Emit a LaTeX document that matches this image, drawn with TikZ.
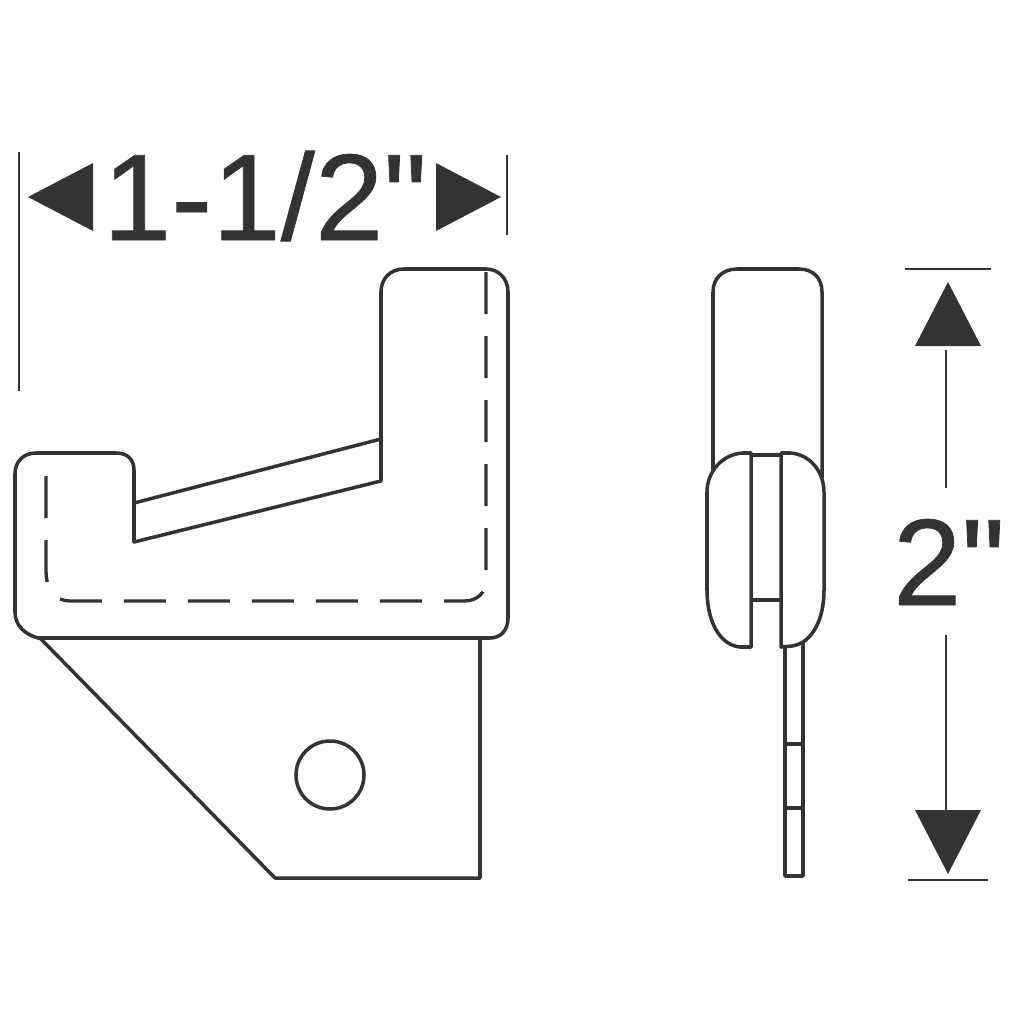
\documentclass[tikz,border=0pt]{standalone}
\usepackage{fontspec}
\setmainfont{Liberation Sans}
\newfontfamily\labelfont[FakeBold=0.6]{Liberation Sans}
\definecolor{inkgray}{HTML}{333333}
\tikzset{
  outline/.style={draw=inkgray,line width=1pt,line join=round},
  hidden/.style={draw=inkgray,line width=0.95pt,dash pattern=on 4.2mm off 2.2mm},
  dimline/.style={draw=inkgray,line width=0.7pt},
  dimhead/.style={fill=inkgray},
  dimtext/.style={text=inkgray,font=\labelfont\fontsize{35}{35}\selectfont,inner sep=0pt}
}
\begin{document}
\begin{tikzpicture}[x=0.01cm,y=-0.01cm]
\useasboundingbox (0,0) rectangle (1024,1024);
% Lower plate
\draw[outline] (40,638) -- (275,878) -- (480,878) -- (480,638);
\draw[outline] (330,775) circle [radius=34];
% Hook body
\draw[outline] (38,638) -- (490,638) .. controls (501,638) and (508,630) .. (508,618)
  -- (508,292) .. controls (508,278) and (498,269) .. (486,269)
  -- (404,269) .. controls (390,269) and (381,279) .. (381,292)
  -- (381,481) -- (134,542) -- (134,470) .. controls (134,459) and (127,453) .. (116,453)
  -- (36,453) .. controls (24,453) and (15,461) .. (15,474)
  -- (15,612) .. controls (15,625) and (24,634) .. (38,638) -- cycle;
\draw[outline] (134,503) -- (381,439);
% Hidden edge
\draw[hidden] (486,272) -- (486,580) .. controls (486,593) and (477,601) .. (464,601)
  -- (70,601) .. controls (55,601) and (46,590) .. (46,570) -- (46,473);
% Side view, upper tab
\draw[outline] (713,470) -- (713,292) .. controls (713,278) and (723,269) .. (737,269)
  -- (799,269) .. controls (813,269) and (822,278) .. (822,292) -- (822,478);
% Side view, stem
\draw[outline] (785,645) -- (785,876) -- (803,876) -- (803,642);
\draw[outline] (785,744) -- (803,744);
\draw[outline] (785,808) -- (803,808);
% Side view, clip halves
\draw[outline,fill=white] (751,647) -- (740,647) .. controls (720,645) and (707,622) .. (707,590)
  -- (707,492) .. controls (707,472) and (722,454) .. (743,453) -- (751,453) -- cycle;
\draw[outline,fill=white] (781,453) -- (790,453) .. controls (810,454) and (824,472) .. (824,492)
  -- (824,590) .. controls (824,620) and (812,643) .. (792,646) -- (781,647) -- cycle;
\draw[outline] (751,455) -- (781,455);
\draw[outline] (751,600) -- (781,600);
% Width dimension
\node[dimtext,anchor=base] (widthlabel) at (265,240) {1-1/2"};
\draw[dimline] (19,152) -- (19,391);
\draw[dimline] (507,155) -- (507,235);
\fill[dimhead] (28,197) -- (93,163) -- (93,231) -- cycle;
\fill[dimhead] (501,197) -- (436,163) -- (436,231) -- cycle;
% Height dimension
\node[dimtext,anchor=base] (heightlabel) at (949,605) {2"};
\coordinate (uptip) at (946,350);
\coordinate (upend) at (946,488);
\coordinate (downtip) at (946,810);
\coordinate (downend) at (946,635);
\draw[dimline] (905,269) -- (991,269);
\draw[dimline] (908,880) -- (988,880);
\draw[dimline] (uptip) -- (upend);
\draw[dimline] (downend) -- (downtip);
\fill[dimhead] (948,282) -- (981,346) -- (915,346) -- cycle;
\fill[dimhead] (948,874) -- (981,810) -- (915,810) -- cycle;
\end{tikzpicture}
\end{document}
